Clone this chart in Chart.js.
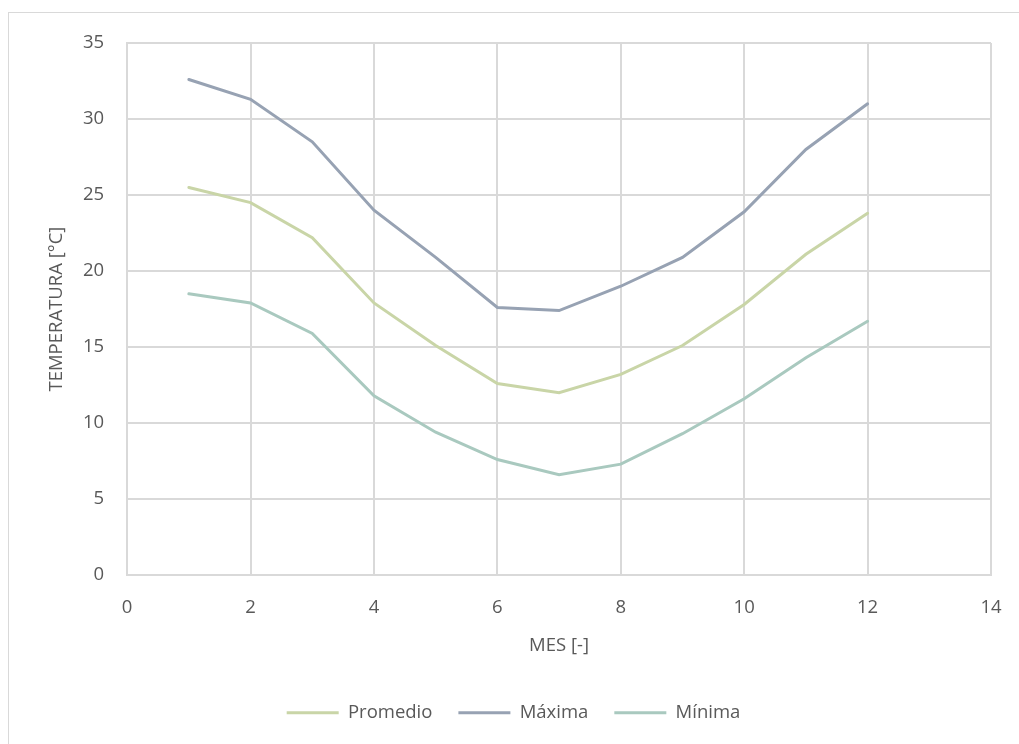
<!DOCTYPE html>
<html>
<head>
<meta charset="utf-8">
<script src="https://cdn.jsdelivr.net/npm/chart.js@4.4.1/dist/chart.umd.min.js"></script>
<style>
    html, body { margin: 0; padding: 0; background: #ffffff; overflow: hidden; }
    #frame { position: absolute; left: 8px; top: 12px; width: 1100px; height: 800px; border: 1px solid #d9d9d9; }
    #wrap { position: absolute; left: 0; top: 0; width: 1019px; height: 744px; }
</style>
</head>
<body>
<div id="frame"></div>
<div id="wrap"><canvas id="myChart" width="1019" height="744"></canvas></div>
<script>
"use strict";

// Months and temperatures
const months = [1, 2, 3, 4, 5, 6, 7, 8, 9, 10, 11, 12];
const promedio = [25.5, 24.5, 22.2, 17.9, 15.1, 12.6, 12.0, 13.2, 15.1, 17.8, 21.1, 23.8];
const maxima = [32.6, 31.3, 28.5, 24.0, 20.9, 17.6, 17.4, 19.0, 20.9, 23.9, 28.0, 31.0];
const minima = [18.5, 17.9, 15.9, 11.8, 9.4, 7.6, 6.6, 7.3, 9.3, 11.6, 14.3, 16.7];

const seriesNames = ['Promedio', 'Máxima', 'Mínima'];
const seriesColors = ['#c9d5a7', '#97a2b3', '#a9c9bf'];

// Builds {x, y} points from the month list
function toPoints(values) {
    return months.map(function (m, i) {
        return { x: m, y: values[i] };
    });
}

const textColor = '#595959';
const gridColor = '#d9d9d9';
const font = { family: 'Open Sans', size: 18.5 };

const datasets = [promedio, maxima, minima].map(function (values, i) {
    return {
        label: seriesNames[i],
        data: toPoints(values),
        borderColor: seriesColors[i],
        backgroundColor: seriesColors[i],
        borderWidth: 3,
        borderCapStyle: 'round',
        pointRadius: 0,
        pointStyle: 'line',
        tension: 0
    };
});

new Chart(document.getElementById('myChart'), {
    type: 'line',
    data: { datasets: datasets },
    options: {
        responsive: false,
        animation: false,
        layout: { padding: { left: 36, right: 28, top: 43, bottom: 12 } },
        plugins: {
            tooltip: { enabled: false },
            legend: {
                position: 'bottom',
                labels: {
                    usePointStyle: true,
                    pointStyleWidth: 52,
                    color: textColor,
                    font: font,
                    padding: 26
                }
            }
        },
        scales: {
            x: {
                type: 'linear',
                min: 0,
                max: 14,
                ticks: { stepSize: 2, color: textColor, font: font, padding: 12 },
                // invisible tick marks give the gap under the axis
                grid: { color: gridColor, lineWidth: 2, drawTicks: true, tickLength: 10, tickColor: 'rgba(0,0,0,0)' },
                border: { color: gridColor, width: 2 },
                title: { display: true, text: 'MES [-]', color: textColor, font: font, padding: { top: 3, bottom: 21 } }
            },
            y: {
                min: 0,
                max: 35,
                ticks: { stepSize: 5, color: textColor, font: font, padding: 23 },
                grid: { color: gridColor, lineWidth: 2, drawTicks: false },
                border: { color: gridColor, width: 2 },
                title: {
                    display: true, text: 'TEMPERATURA [°C]', color: textColor,
                    font: { family: 'Open Sans', size: 18.5, lineHeight: 2.27 },
                    padding: { top: 0, bottom: -18 }
                }
            }
        }
    }
});
</script>
</body>
</html>
